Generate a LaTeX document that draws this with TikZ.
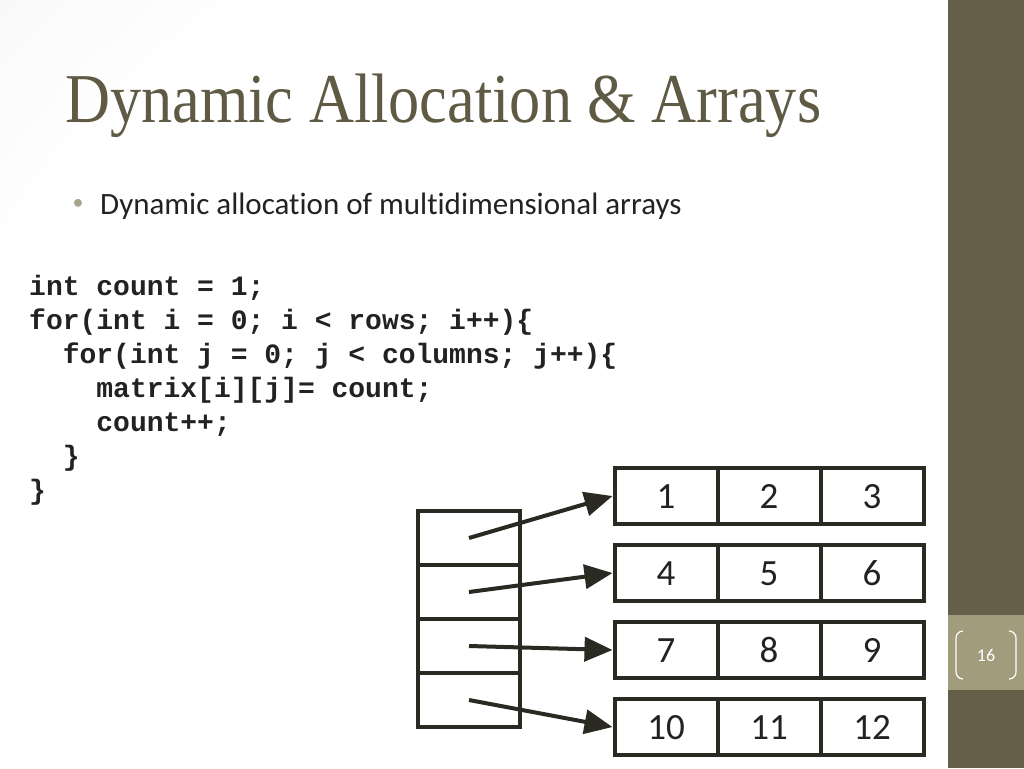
\documentclass[tikz,border=0pt]{standalone}
\usepackage{fontspec}
\newfontfamily\titlefont{Liberation Serif}
\newfontfamily\bodyfont{Carlito}[Ligatures=NoCommon]
\newfontfamily\codefont{Liberation Mono}
\usetikzlibrary{arrows.meta,shadows}

\definecolor{olive}{HTML}{655E48}
\definecolor{olivelight}{HTML}{A09C7C}
\definecolor{titlecol}{HTML}{5F5A43}
\definecolor{boxline}{HTML}{2B2A22}
\definecolor{bulletcol}{HTML}{A8A58E}
\definecolor{inkcol}{HTML}{222222}
\pgfdeclareradialshading{slidebg}{\pgfpoint{0bp}{0bp}}{color(0bp)=(white); color(25bp)=(white); color(50bp)=(black!10); color(70bp)=(black!16)}

\tikzset{
  cell/.style={draw=boxline, line width=4pt, fill=white, minimum width=103pt, minimum height=56pt, inner sep=0pt,
    text height=24pt, text depth=0pt,
    drop shadow={shadow xshift=2pt, shadow yshift=-2pt, opacity=0.25},
    font=\bodyfont\fontsize{37}{40}\selectfont, text=inkcol},
  ptrcell/.style={draw=boxline, line width=4pt, fill=white, minimum width=102pt, minimum height=54pt,
    drop shadow={shadow xshift=2pt, shadow yshift=-2pt, opacity=0.25}},
  ptr/.style={draw=boxline, line width=4pt, -{Triangle[length=28pt,width=24pt]}},
  codeline/.style={anchor=base west, inner sep=0pt, font=\codefont\bfseries\fontsize{28}{34}\selectfont, text=inkcol},
}

\begin{document}
\begin{tikzpicture}[x=1pt,y=-1pt]
  \useasboundingbox (0,0) rectangle (1024,768);
  % slide background
  \begin{scope}
    \clip (0,0) rectangle (948,768);
    \shade[shading=slidebg] (-100,-100) rectangle (1450,1500);
  \end{scope}
  \fill[olive] (948,0) rectangle (1024,768);
  \fill[olivelight] (948,615) rectangle (1024,690);

  % title and bullet
  \node[anchor=base west, inner sep=0pt, text=titlecol, font=\titlefont\fontsize{70}{80}\selectfont] (title) at (65,122)
    {\scalebox{0.89}[1]{Dynamic Allocation \& Arrays}};
  \node[anchor=base west, inner sep=0pt, text=inkcol, font=\bodyfont\fontsize{31}{36}\selectfont] (point) at (100,214)
    {Dynamic allocation of multidimensional arrays};
  \node[text=bulletcol, inner sep=0pt, font=\bodyfont\fontsize{22}{24}\selectfont] (dot) at (78,204) {•};

  % code
  \node[codeline] (c1) at (29,295) {int count = 1;};
  \node[codeline] (c2) at (29,329) {for(int i = 0; i < rows; i++)\{};
  \node[codeline] (c3) at (62.6,363) {for(int j = 0; j < columns; j++)\{};
  \node[codeline] (c4) at (96.2,397) {matrix[i][j]= count;};
  \node[codeline] (c5) at (96.2,431) {count++;};
  \node[codeline] (c6) at (62.6,465) {\}};
  \node[codeline] (c7) at (29,499) {\}};

  % pointer column and rows
  \foreach \r in {1,...,4}
    \node[ptrcell] (p\r) at (469,484+54*\r) {};
  \foreach \r in {1,...,4} {
    \foreach \c in {1,2,3} {
      \pgfmathtruncatemacro{\val}{3*(\r-1)+\c}
      \node[cell] (m\r\c) at (563+103*\c,419+77*\r) {\val};
    }
    \draw[ptr] (p\r.center) -- (m\r1.west);
  }

  % page number
  \node[text=white, inner sep=0pt, font=\bodyfont\fontsize{18}{20}\selectfont] (pg) at (986,655) {16};
  \draw[white, line width=1.2pt, rounded corners=7pt] (963,631) -- (956,631) -- (956,679) -- (963,679);
  \draw[white, line width=1.2pt, rounded corners=7pt] (1009,631) -- (1016,631) -- (1016,679) -- (1009,679);
\end{tikzpicture}
\end{document}
